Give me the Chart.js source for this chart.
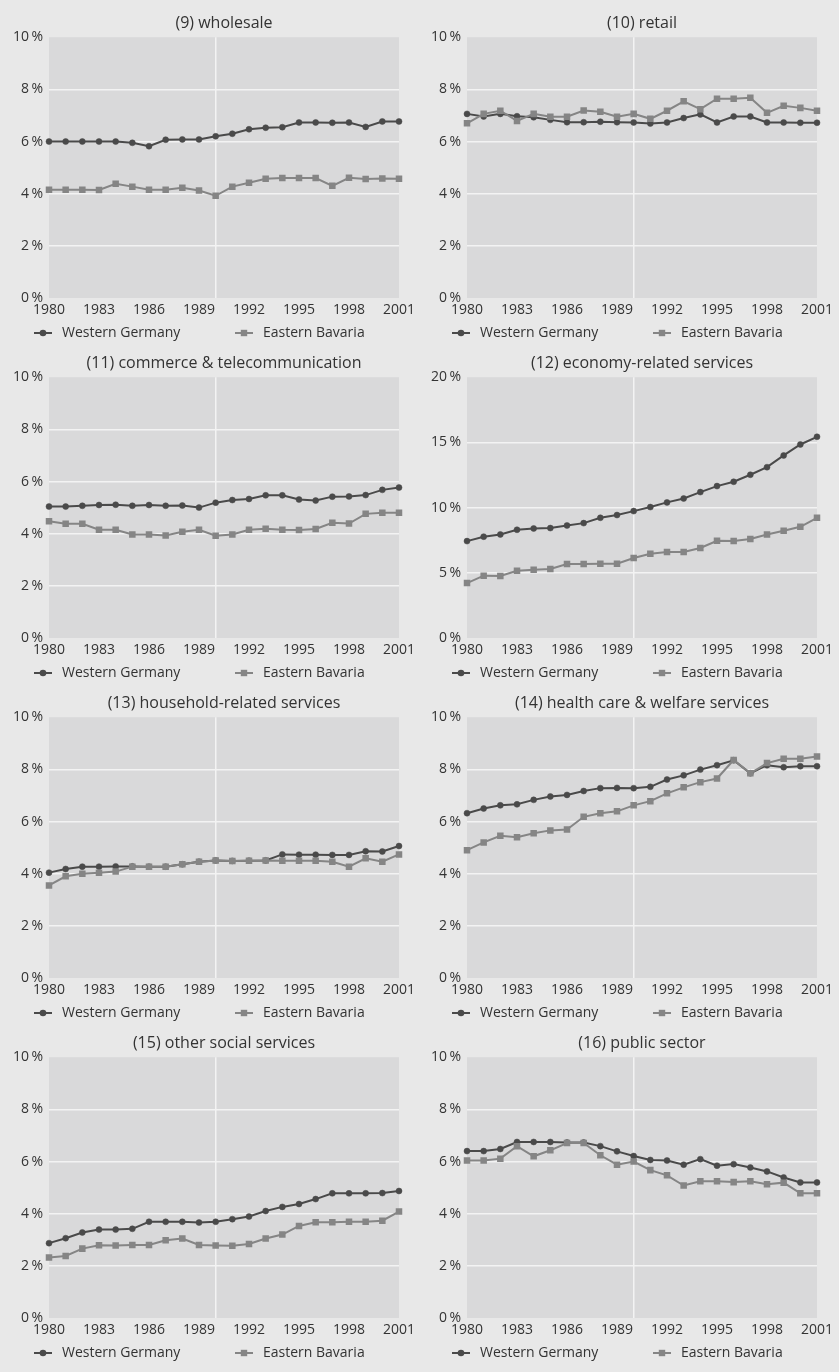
<!DOCTYPE html>
<html>
<head>
<meta charset="utf-8">
<script src="https://cdn.jsdelivr.net/npm/chart.js@4"></script>
<style>
html,body{margin:0;padding:0;background:#e8e8e8;}
body{width:839px;height:1372px;position:relative;overflow:hidden;}
.panel{position:absolute;}
canvas{display:block;}
</style>
</head>
<body>
<script>
// ---- data ----
const years = ['1980','1981','1982','1983','1984','1985','1986','1987','1988','1989','1990',
               '1991','1992','1993','1994','1995','1996','1997','1998','1999','2000','2001'];
const seriesNames = ['Western Germany', 'Eastern Bavaria'];
const titles = ['(9) wholesale', '(10) retail', '(11) commerce & telecommunication',
                '(12) economy-related services', '(13) household-related services',
                '(14) health care & welfare services', '(15) other social services', '(16) public sector'];
const yMax  = [10, 10, 10, 20, 10, 10, 10, 10];
const yStep = [2, 2, 2, 5, 2, 2, 2, 2];

const wgWholesale = [6.0,6.0,6.0,6.0,6.0,5.95,5.82,6.07,6.08,6.08,6.2,6.3,6.47,6.53,6.55,6.73,6.73,6.72,6.73,6.56,6.77,6.77];
const ebWholesale = [4.15,4.15,4.15,4.14,4.38,4.27,4.15,4.15,4.23,4.12,3.92,4.27,4.42,4.57,4.6,4.6,4.6,4.3,4.61,4.56,4.58,4.57];

const wgRetail = [7.06,6.96,7.06,6.97,6.93,6.83,6.74,6.74,6.76,6.74,6.73,6.69,6.73,6.9,7.04,6.73,6.96,6.96,6.73,6.73,6.72,6.72];
const ebRetail = [6.7,7.06,7.18,6.79,7.06,6.95,6.95,7.19,7.14,6.95,7.06,6.87,7.18,7.54,7.24,7.64,7.64,7.68,7.1,7.37,7.29,7.18];

const wgCommerce = [5.04,5.04,5.07,5.1,5.11,5.07,5.1,5.07,5.08,5.0,5.19,5.29,5.33,5.47,5.47,5.31,5.27,5.42,5.43,5.48,5.68,5.77];
const ebCommerce = [4.48,4.38,4.38,4.15,4.15,3.97,3.97,3.93,4.07,4.15,3.92,3.97,4.15,4.19,4.15,4.14,4.18,4.42,4.39,4.76,4.8,4.8];

const wgEconomy = [7.43,7.77,7.94,8.3,8.4,8.43,8.63,8.81,9.22,9.43,9.73,10.04,10.4,10.7,11.19,11.65,11.98,12.52,13.1,14.0,14.84,15.43];
const ebEconomy = [4.21,4.78,4.75,5.16,5.24,5.29,5.67,5.67,5.7,5.7,6.13,6.46,6.59,6.59,6.9,7.46,7.43,7.59,7.94,8.22,8.53,9.22];

const wgHousehold = [4.04,4.18,4.27,4.27,4.28,4.28,4.27,4.27,4.36,4.46,4.51,4.49,4.5,4.51,4.74,4.73,4.73,4.72,4.72,4.86,4.85,5.06];
const ebHousehold = [3.55,3.9,4.0,4.04,4.08,4.27,4.27,4.27,4.36,4.46,4.51,4.49,4.5,4.51,4.5,4.5,4.5,4.46,4.27,4.59,4.46,4.74];

const wgHealth = [6.32,6.5,6.62,6.66,6.83,6.96,7.02,7.17,7.28,7.29,7.28,7.33,7.61,7.77,7.99,8.16,8.35,7.85,8.16,8.08,8.12,8.12];
const ebHealth = [4.9,5.2,5.45,5.4,5.55,5.66,5.69,6.18,6.32,6.39,6.62,6.78,7.08,7.31,7.51,7.65,8.36,7.85,8.24,8.41,8.41,8.49];

const wgSocial = [2.87,3.06,3.28,3.39,3.39,3.42,3.69,3.69,3.69,3.66,3.69,3.79,3.89,4.1,4.26,4.37,4.56,4.78,4.78,4.78,4.79,4.87];
const ebSocial = [2.32,2.38,2.66,2.79,2.78,2.8,2.8,2.98,3.05,2.8,2.78,2.77,2.84,3.05,3.2,3.53,3.67,3.67,3.69,3.69,3.73,4.08];

const wgPublic = [6.4,6.4,6.48,6.75,6.75,6.75,6.73,6.73,6.59,6.39,6.21,6.06,6.04,5.88,6.09,5.84,5.9,5.77,5.62,5.39,5.2,5.2];
const ebPublic = [6.04,6.04,6.11,6.59,6.2,6.43,6.71,6.71,6.24,5.88,6.0,5.67,5.47,5.08,5.24,5.24,5.21,5.24,5.13,5.19,4.78,4.78];

const wgSeries = [wgWholesale, wgRetail, wgCommerce, wgEconomy, wgHousehold, wgHealth, wgSocial, wgPublic];
const ebSeries = [ebWholesale, ebRetail, ebCommerce, ebEconomy, ebHousehold, ebHealth, ebSocial, ebPublic];

// ---- styling ----
const FONT = "'Open Sans', 'DejaVu Sans', sans-serif";
const TEXT = '#333333';
const WG_COLOR = '#4a4a4a';
const EB_COLOR = '#858585';
const PLOT_BG = '#d9d9da';
const GRID = '#f3f3f3';

const plotBg = {
  id: 'plotBg',
  beforeDraw(chart) {
    const {ctx, chartArea: a} = chart;
    ctx.save();
    ctx.fillStyle = PLOT_BG;
    ctx.fillRect(a.left, a.top, a.right - a.left, a.bottom - a.top);
    ctx.restore();
  }
};

const lineLegend = {
  id: 'lineLegend',
  afterDraw(chart) {
    const {ctx, chartArea: a} = chart;
    const y = a.bottom + 35;
    const offs = [-15, 186];
    ctx.save();
    chart.data.datasets.forEach((ds, i) => {
      const x0 = a.left + offs[i];
      ctx.strokeStyle = ds.borderColor;
      ctx.lineWidth = 2;
      ctx.beginPath(); ctx.moveTo(x0, y); ctx.lineTo(x0 + 18, y); ctx.stroke();
      ctx.fillStyle = ds.borderColor;
      const cx = x0 + 9;
      if (ds.pointStyle === 'rect') {
        ctx.fillRect(cx - 3.2, y - 3.2, 6.4, 6.4);
      } else {
        ctx.beginPath(); ctx.arc(cx, y, 3.3, 0, Math.PI * 2); ctx.fill();
      }
      ctx.fillStyle = TEXT;
      ctx.font = '14px ' + FONT;
      ctx.textBaseline = 'middle';
      ctx.textAlign = 'left';
      ctx.fillText(ds.label, x0 + 28, y);
    });
    ctx.restore();
  }
};

const CH = 352; // canvas height (extra room below legend so descenders are not clipped)
for (let k = 0; k < 8; k++) {
  const col = k % 2, row = Math.floor(k / 2);
  const w = col === 0 ? 420 : 419;
  const leftW = col === 0 ? 49 : 47;
  const rightPad = col === 0 ? 21 : 22;
  const div = document.createElement('div');
  div.className = 'panel';
  div.style.left = (col === 0 ? 0 : 420) + 'px';
  div.style.top = (row * 340) + 'px';
  const cv = document.createElement('canvas');
  cv.width = w; cv.height = CH;
  cv.style.width = w + 'px'; cv.style.height = CH + 'px';
  div.appendChild(cv);
  document.body.appendChild(div);
  const max = yMax[k];

  new Chart(cv, {
    type: 'line',
    data: {
      labels: years,
      datasets: [
        { label: seriesNames[0], data: wgSeries[k], borderColor: WG_COLOR, backgroundColor: WG_COLOR,
          borderWidth: 2, pointStyle: 'circle', pointRadius: 3, pointBorderWidth: 0.5,
          pointBackgroundColor: WG_COLOR, pointBorderColor: WG_COLOR, tension: 0, order: 1 },
        { label: seriesNames[1], data: ebSeries[k], borderColor: EB_COLOR, backgroundColor: EB_COLOR,
          borderWidth: 2, pointStyle: 'rect', pointRadius: 4.6, pointBorderWidth: 0,
          pointBackgroundColor: EB_COLOR, pointBorderColor: EB_COLOR, tension: 0, order: 0 }
      ]
    },
    options: {
      responsive: false,
      animation: false,
      events: [],
      layout: { padding: { left: 0, right: rightPad, top: 0, bottom: 14 + (CH - 340) } },
      plugins: {
        legend: { display: false },
        tooltip: { enabled: false },
        title: {
          display: true, text: titles[k], fullSize: false, color: TEXT,
          font: { family: FONT, size: 16, weight: 'normal' },
          padding: { top: 14, bottom: 4 }
        }
      },
      scales: {
        x: {
          type: 'category', offset: false,
          border: { display: false },
          grid: { drawTicks: false, lineWidth: 1.5,
                  color: c => (years[c.index] === '1990' ? GRID : 'rgba(0,0,0,0)') },
          ticks: { autoSkip: false, maxRotation: 0, minRotation: 0, padding: 4, color: TEXT,
                   font: { family: FONT, size: 14 },
                   callback: (v, i) => ((Number(years[i]) - 1980) % 3 === 0 ? years[i] : '') },
          afterFit: s => { s.height = 28; }
        },
        y: {
          min: 0, max: max,
          border: { display: false },
          grid: { drawTicks: false, lineWidth: 1.5,
                  color: c => (c.tick && (c.tick.value === 0 || c.tick.value === max) ? 'rgba(0,0,0,0)' : GRID) },
          ticks: { stepSize: yStep[k], padding: 6, color: TEXT, font: { family: FONT, size: 14 },
                   callback: v => v + '\u2009%' },
          afterFit: s => { s.width = leftW; }
        }
      }
    },
    plugins: [plotBg, lineLegend]
  });
}
</script>
</body>
</html>
